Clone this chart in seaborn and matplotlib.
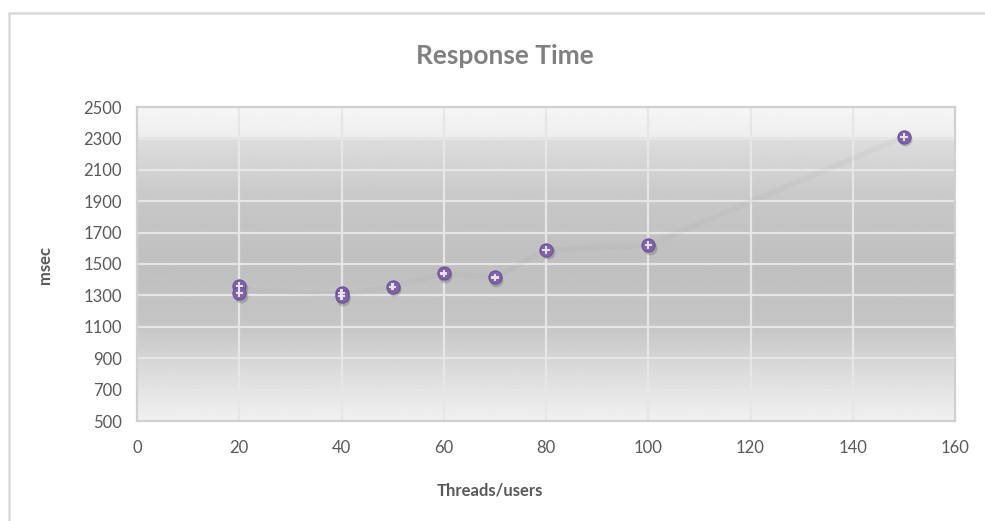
import numpy as np
import pandas as pd
import matplotlib
matplotlib.use("Agg")
import matplotlib.pyplot as plt
import matplotlib.transforms as mtransforms
from matplotlib.lines import Line2D
import seaborn as sns

# ---- data ----
threads = [20, 20, 40, 40, 50, 60, 70, 80, 100, 150]
msec = [1360, 1315, 1315, 1295, 1355, 1440, 1415, 1590, 1620, 2310]
x_ticks = [0, 20, 40, 60, 80, 100, 120, 140, 160]
y_ticks = [500, 700, 900, 1100, 1300, 1500, 1700, 1900, 2100, 2300, 2500]
title = "Response Time"
x_label = "Threads/users"
y_label = "msec"

df = pd.DataFrame({"threads": threads, "msec": msec})

sns.set_theme(style="white")
plt.rcParams["font.family"] = ["Lato", "DejaVu Sans"]

fig = plt.figure(figsize=(9.85, 5.21), dpi=100)
ax = fig.add_axes([137 / 985, 1 - 421 / 521, (955 - 137) / 985, (421 - 107) / 521])

# gradient background of plot area (values from bottom to top)
stops_f = [0.0, 0.15, 0.30, 0.50, 0.70, 0.895, 0.90, 1.0]
stops_v = [0.945, 0.865, 0.775, 0.75, 0.78, 0.865, 0.93, 0.965]
f = np.linspace(0, 1, 400)
g = np.interp(f, stops_f, stops_v)
img = np.repeat(g[:, None], 2, axis=1)
ax.imshow(img, cmap="gray", vmin=0, vmax=1, origin="lower", aspect="auto",
          extent=[x_ticks[0], x_ticks[-1], y_ticks[0], y_ticks[-1]], zorder=0,
          interpolation="bilinear")

ax.set_xlim(x_ticks[0], x_ticks[-1])
ax.set_ylim(y_ticks[0], y_ticks[-1])
ax.set_xticks(x_ticks)
ax.set_yticks(y_ticks)

# grid
for xv in x_ticks[1:-1]:
    ax.axvline(xv, color="#e6e6e6", lw=1.6, zorder=1)
for yv in y_ticks[1:-1]:
    ax.axhline(yv, color="#e6e6e6", lw=1.6, zorder=1)

# faint trend line
sns.lineplot(data=df, x="threads", y="msec", estimator="mean", errorbar=None,
             color="#9a9a9a", alpha=0.09, lw=4, ax=ax, zorder=2)

# marker shadow
shadow_tr = mtransforms.offset_copy(ax.transData, fig=fig, x=1.5, y=-2.5, units="dots")
ax.scatter(df["threads"], df["msec"], s=100, color="#555555", alpha=0.3,
           transform=shadow_tr, zorder=3, linewidths=0)
sns.scatterplot(data=df, x="threads", y="msec", s=90, color="#8064a8",
                edgecolor="#6b4f96", linewidth=0.8, ax=ax, zorder=4)
sns.scatterplot(data=df, x="threads", y="msec", s=28, color="#e9e0f5",
                edgecolor="none", marker="P", ax=ax, zorder=5)

for sp in ax.spines.values():
    sp.set_color("#d0d0d0")
    sp.set_linewidth(1.6)

ax.tick_params(axis="both", which="both", length=0, labelsize=12, labelcolor="#595959")
ax.tick_params(axis="x", pad=14)
ax.tick_params(axis="y", pad=11)

ax.set_xlabel("")
ax.set_ylabel("")
fig.text(490 / 985, 1 - 490 / 521, x_label, ha="center", va="center",
         fontsize=12, fontweight="bold", color="#595959")
fig.text(45 / 985, 1 - 265 / 521, y_label, ha="center", va="center", rotation=90,
         fontsize=12, fontweight="bold", color="#595959")
fig.text(505 / 985, 1 - 56 / 521, title, ha="center", va="center",
         fontsize=19, fontweight="bold", color="#808080")

# outer chart border (top and left visible)
fig.add_artist(Line2D([9 / 985, 1.0], [1 - 13 / 521, 1 - 13 / 521],
                      transform=fig.transFigure, color="#d9d9d9", lw=1.8))
fig.add_artist(Line2D([9 / 985, 9 / 985], [0.0, 1 - 13 / 521],
                      transform=fig.transFigure, color="#d9d9d9", lw=1.8))

fig.savefig("out.png", dpi=100, facecolor="white")
